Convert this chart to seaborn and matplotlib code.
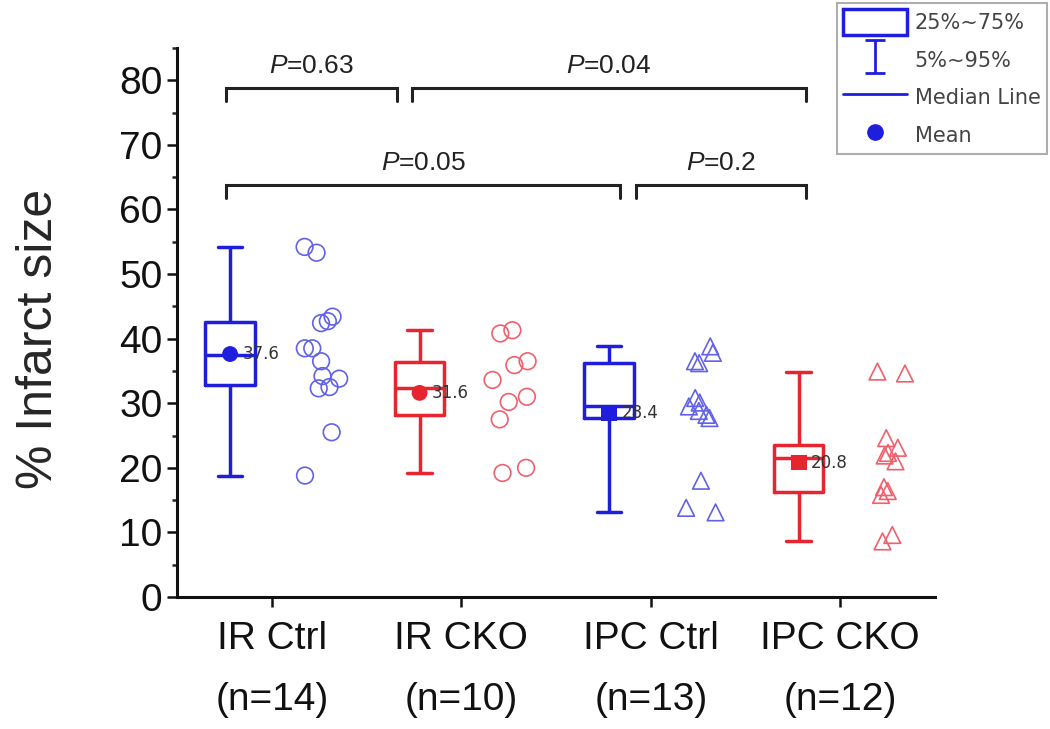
import numpy as np
import pandas as pd
import matplotlib
matplotlib.use("Agg")
import matplotlib.pyplot as plt
from matplotlib.patches import Patch
from matplotlib.lines import Line2D
from matplotlib.ticker import MultipleLocator
from matplotlib.legend_handler import HandlerErrorbar
import seaborn as sns

# Data (% infarct size per animal)
groups = ["IR Ctrl", "IR CKO", "IPC Ctrl", "IPC CKO"]
ir_ctrl = [18.8, 25.5, 32.3, 32.5, 33.8, 34.2, 36.5, 38.5, 38.5, 42.4, 42.7, 43.4, 53.3, 54.2]
ir_cko = [19.2, 20.0, 27.5, 30.2, 31.0, 33.6, 35.9, 36.5, 40.8, 41.3]
ipc_ctrl = [13.1, 13.8, 18.0, 27.7, 28.2, 28.8, 29.5, 30.1, 30.8, 36.2, 36.5, 37.8, 38.8]
ipc_cko = [8.6, 9.6, 15.8, 16.4, 17.0, 21.0, 21.9, 22.3, 23.1, 24.6, 34.6, 34.9]
p_labels = ["$P$=0.63", "$P$=0.04", "$P$=0.05", "$P$=0.2"]
legend_labels = ["25%~75%", "5%~95%", "Median Line", "Mean"]

blue, red = "#1E1EDC", "#E8252F"
blue_pt, red_pt = "#6262E6", "#F0606C"
box_colors = {"IR Ctrl": blue, "IR CKO": red, "IPC Ctrl": blue, "IPC CKO": red}
pt_colors = {"IR Ctrl": blue_pt, "IR CKO": red_pt, "IPC Ctrl": blue_pt, "IPC CKO": red_pt}

series = [ir_ctrl, ir_cko, ipc_ctrl, ipc_cko]
df = pd.DataFrame({
    "group": np.repeat(groups, [len(s) for s in series]),
    "value": np.concatenate(series),
})
df["pos"] = df["group"].map({g: i + 1 for i, g in enumerate(groups)})
df["box_x"] = df["pos"] - 0.22
df["pt_x"] = df["pos"] + 0.26

sns.set_style("ticks")
plt.rcParams["font.family"] = ["Liberation Sans", "DejaVu Sans"]
plt.rcParams["mathtext.fontset"] = "custom"
plt.rcParams["mathtext.it"] = "Liberation Sans:italic"
plt.rcParams["mathtext.rm"] = "Liberation Sans"

fig = plt.figure(figsize=(10.5, 7.29), dpi=100)
ax = fig.add_axes([0.1686, 0.1811, 0.7219, 0.7531])

# boxes (whiskers at min / max, as in the reference)
sns.boxplot(data=df, x="box_x", y="value", hue="group", hue_order=groups,
            palette=box_colors, native_scale=True, dodge=False, width=0.26,
            fill=False, whis=(0, 100), showfliers=False, linewidth=2.5,
            legend=False, ax=ax)

# means + labels
means = df.groupby("group", sort=False).agg(value=("value", "mean"), box_x=("box_x", "first")).reset_index()
means["shape"] = ["IR", "IR", "IPC", "IPC"]
sns.scatterplot(data=means, x="box_x", y="value", hue="group", palette=box_colors,
                style="shape", markers={"IR": "o", "IPC": "s"}, s=130,
                edgecolor="none", legend=False, ax=ax, zorder=5)
for _, row in means.iterrows():
    ax.text(row["box_x"] + 0.065, row["value"], f"{row['value']:.1f}",
            ha="left", va="center", fontsize=12, color="#333333",
            family="DejaVu Sans", zorder=6)

# individual animals, open markers
np.random.seed(7)
for shape, subset in [("o", ["IR Ctrl", "IR CKO"]), ("^", ["IPC Ctrl", "IPC CKO"])]:
    n0 = len(ax.collections)
    sns.stripplot(data=df[df["group"].isin(subset)], x="pt_x", y="value",
                  hue="group", palette=pt_colors, native_scale=True, jitter=0.1,
                  marker=shape, size=12, linewidth=1.2, legend=False, ax=ax)
    for c in ax.collections[n0:]:
        fc = c.get_facecolors()
        c.set_edgecolors(fc)
        c.set_facecolors("none")

# significance brackets
brackets = [(0.76, 1.66, 78.8), (1.74, 3.82, 78.8), (0.76, 2.84, 63.8), (2.92, 3.82, 63.8)]
for (x0, x1, y), lab in zip(brackets, p_labels):
    ax.plot([x0, x0, x1, x1], [y - 2.0, y, y, y - 2.0], color="#222222", lw=2.2,
            solid_joinstyle="miter", clip_on=False)
    ax.text((x0 + x1) / 2, y + 3.4, lab, ha="center", va="center", fontsize=19,
            color="#222222")

# axes styling
ax.set_xlim(0.5, 4.5)
ax.set_ylim(0, 85)
ax.set_xticks([1, 2, 3, 4])
ax.set_xticklabels([f"{g}\n(n={len(s)})" for g, s in zip(groups, series)],
                   linespacing=1.9)
ax.set_yticks(range(0, 81, 10))
ax.yaxis.set_minor_locator(MultipleLocator(5))
ax.set_xlabel("")
ax.set_ylabel("% Infarct size", fontsize=36)
ax.yaxis.set_label_coords(-0.152, 0.47)
ax.tick_params(axis="both", which="major", length=7, width=1.8, labelsize=28,
               direction="out", colors="#111111")
ax.tick_params(axis="x", which="major", pad=10)
ax.tick_params(axis="y", which="minor", length=3.5, width=1.8)
ax.tick_params(axis="x", which="minor", bottom=False)
sns.despine(ax=ax)
for sp in ["left", "bottom"]:
    ax.spines[sp].set_linewidth(2.2)
    ax.spines[sp].set_color("#111111")

# legend
eb = ax.errorbar([np.nan], [np.nan], yerr=[1], fmt="none", ecolor=blue,
                 elinewidth=2, capsize=7, capthick=2)
handles = [Patch(facecolor="white", edgecolor=blue, linewidth=2.5), eb,
           Line2D([], [], color=blue, lw=2),
           Line2D([], [], marker="o", color=blue, ls="none", ms=11)]
leg = fig.legend(handles, legend_labels, loc="upper right",
                 bbox_to_anchor=(0.997, 0.996), frameon=True, fancybox=False,
                 edgecolor="#9a9a9a", handlelength=3.1,
                 handleheight=1.55, labelspacing=0.55, borderaxespad=0,
                 borderpad=0.3, handletextpad=0.35,
                 prop={"family": "DejaVu Sans", "size": 15},
                 handler_map={type(eb): HandlerErrorbar(xerr_size=0.8)})
leg.get_frame().set_linewidth(1.5)
for t in leg.get_texts():
    t.set_color("#444444")

fig.savefig("out.png", dpi=100)
